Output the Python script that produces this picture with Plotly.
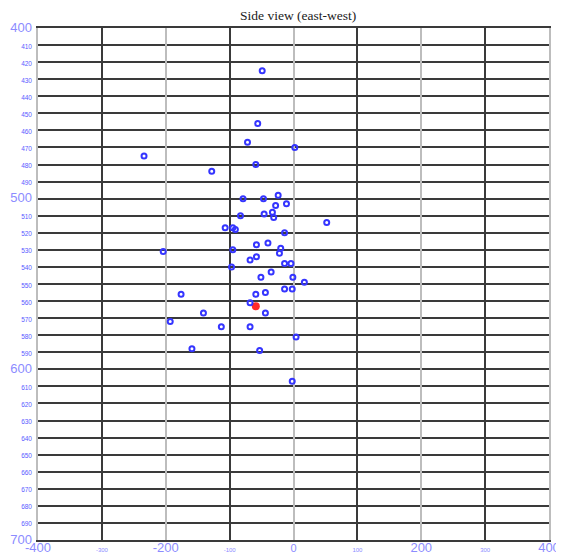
import plotly.graph_objects as go

# Blue event positions (east-west offset, depth)
east_west = [-49, -56, -72, 2, -59, -128, -234, -79, -47, -24, -28, -11,
             -83, -46, -33, -31, 52, -107, -95, -91, -14, -40, -58, -20,
             -204, -95, -22, -58, -68, -14, -4, -97, -35, -51, -1, 17,
             -14, -2, -44, -59, -176, -68, -141, -44, -193, -113, -68, 4,
             -159, -53, -2]
depth = [425, 456, 467, 470, 480, 484, 475, 500, 500, 498, 504, 503,
         510, 509, 508, 511, 514, 517, 517, 518, 520, 526, 527, 529,
         531, 530, 532, 534, 536, 538, 538, 540, 543, 546, 546, 549,
         553, 553, 555, 556, 556, 561, 567, 567, 572, 575, 575, 581,
         588, 589, 607]

# Red (main) event
main_x = [-59]
main_depth = [563]

x_ticks = [-400, -300, -200, -100, 0, 100, 200, 300, 400]
x_tick_sizes = [13, 6, 13, 6, 11, 6, 13, 6, 13]
y_ticks = list(range(400, 701, 10))

major_blue = "#8c8cff"
minor_blue = "#5a5aff"

x_text = [f'<span style="font-size:{s}px">{v}</span>' for v, s in zip(x_ticks, x_tick_sizes)]
y_text = []
for v in y_ticks:
    if v % 100 == 0:
        y_text.append(f'<span style="font-size:13px;color:{major_blue}">{v}</span>')
    else:
        y_text.append(f'<span style="font-size:6.5px;color:{minor_blue}">{v}</span>')

fig = go.Figure()
fig.add_trace(go.Scatter(
    x=east_west, y=depth, mode="markers", xaxis="x2", yaxis="y",
    marker=dict(symbol="circle-open", size=5, color="#3535ff", line=dict(width=2, color="#3535ff")),
    showlegend=False, hoverinfo="x+y"))
fig.add_trace(go.Scatter(
    x=main_x, y=main_depth, mode="markers", xaxis="x", yaxis="y",
    marker=dict(symbol="circle", size=8, color="#ff2a2a"),
    showlegend=False, hoverinfo="x+y"))

fig.update_layout(
    width=556, height=544,
    margin=dict(l=30, r=15, t=20, b=12, autoexpand=False),
    paper_bgcolor="white", plot_bgcolor="white",
    title=dict(text="Side view (east-west)", x=0.522, xanchor="center", y=0.987, yanchor="middle",
               font=dict(family="Liberation Serif, DejaVu Serif, serif", size=13.5, color="#222222")),
    xaxis=dict(range=[-400, 400], tickmode="array", tickvals=x_ticks, ticktext=x_text,
               showgrid=False, zeroline=False, showline=True, mirror=True,
               linecolor="#3a3a3a", linewidth=2, ticks="", automargin=False,
               ticklabelstandoff=-4,
               tickfont=dict(family="Liberation Sans, Arial, sans-serif", size=12, color=major_blue)),
    xaxis2=dict(overlaying="x", matches="x", anchor="y", range=[-400, 400], showticklabels=False,
                tick0=-400, dtick=200, showgrid=True, gridcolor="#bdbdbd", gridwidth=2,
                minor=dict(tick0=-400, dtick=100, showgrid=True, gridcolor="#3a3a3a", gridwidth=1.5),
                zeroline=False, showline=False, ticks="", automargin=False),
    yaxis=dict(range=[700, 400], tickmode="array", tickvals=y_ticks, ticktext=y_text,
               showgrid=True, gridcolor="#3a3a3a", gridwidth=1.5, zeroline=False,
               showline=True, mirror=True, linecolor="#bdbdbd", linewidth=2,
               ticks="", ticklabelstandoff=2, automargin=False,
               tickfont=dict(family="Liberation Sans, Arial, sans-serif", size=10, color=major_blue)),
)

fig.write_html("out.html")
